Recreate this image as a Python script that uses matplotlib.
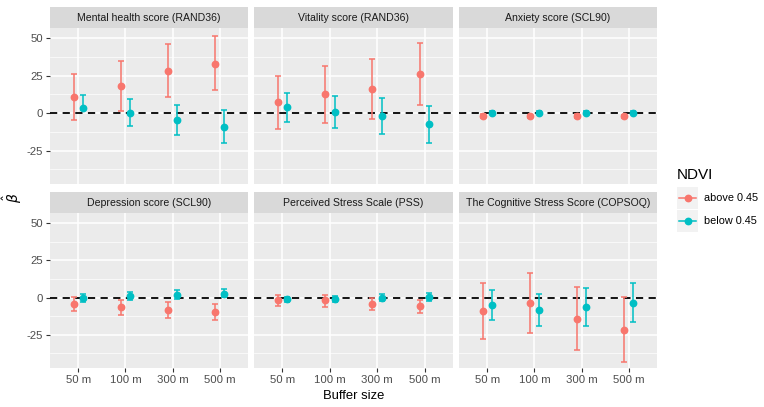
import numpy as np
import matplotlib
matplotlib.use('Agg')
import matplotlib.pyplot as plt
from matplotlib.lines import Line2D
from matplotlib.patches import Rectangle

plt.rcParams['font.family'] = ['Liberation Sans', 'DejaVu Sans']

panels = ["Mental health score (RAND36)", "Vitality score (RAND36)", "Anxiety score (SCL90)",
          "Depression score (SCL90)", "Perceived Stress Scale (PSS)", "The Cognitive Stress Score (COPSOQ)"]
buffers = ["50 m", "100 m", "300 m", "500 m"]
groups = ["above 0.45", "below 0.45"]

# NDVI above 0.45: estimate, lower, upper (one row per panel)
est_above = [[10.9, 18.0, 28.4, 33.1],
             [7.1, 12.7, 16.4, 26.2],
             [-2.0, -2.2, -2.1, -2.2],
             [-4.0, -6.5, -8.3, -9.6],
             [-1.8, -1.8, -4.3, -5.8],
             [-9.0, -3.6, -14.1, -21.5]]
lo_above = [[-4.7, 1.6, 10.9, 15.1],
            [-10.9, -6.4, -4.0, 5.3],
            [-3.2, -3.4, -3.3, -3.4],
            [-8.7, -11.4, -13.7, -15.0],
            [-5.6, -6.0, -8.5, -10.3],
            [-27.8, -23.5, -35.0, -43.5]]
hi_above = [[26.4, 34.7, 46.2, 51.3],
            [24.9, 31.6, 36.4, 47.1],
            [-0.8, -1.0, -0.9, -1.0],
            [0.7, -1.3, -3.1, -4.3],
            [1.8, 2.0, 0.0, -1.6],
            [9.9, 16.4, 7.2, 0.4]]

# NDVI below 0.45
est_below = [[3.6, 0.2, -4.7, -9.1],
             [4.0, 0.9, -2.0, -7.3],
             [0.3, 0.3, 0.3, 0.3],
             [-0.4, 1.1, 1.8, 2.7],
             [-0.9, -0.9, 0.0, 0.7],
             [-5.2, -8.3, -6.5, -3.4]]
lo_below = [[2.0, -8.7, -14.9, -19.8],
            [-5.8, -9.6, -13.8, -20.0],
            [-0.5, -0.5, -0.5, -0.5],
            [-2.7, -1.8, -0.9, 0.2],
            [-2.7, -3.1, -2.5, -2.0],
            [-15.0, -19.3, -19.1, -16.4]]
hi_below = [[12.0, 9.3, 5.6, 2.0],
            [13.6, 11.1, 10.0, 4.9],
            [1.1, 1.1, 1.1, 1.1],
            [2.5, 3.8, 4.9, 6.0],
            [0.7, 0.9, 2.2, 3.4],
            [5.2, 2.5, 6.1, 10.1]]

colors = ["#F8766D", "#00BFC4"]
W, H = 764, 407
fig = plt.figure(figsize=(W / 100, H / 100), dpi=100)

cols = [(50, 248), (254, 453), (459, 657)]
rows = [(7, 28, 184), (192, 213, 368)]
grey = "#4D4D4D"

x = np.arange(1, 5)
for i, title in enumerate(panels):
    r, c = divmod(i, 3)
    x0, x1 = cols[c]
    st, sb, pb = rows[r]
    ax = fig.add_axes([x0 / W, 1 - pb / H, (x1 - x0) / W, (pb - sb) / H])
    sax = fig.add_axes([x0 / W, 1 - sb / H, (x1 - x0) / W, (sb - st) / H])
    sax.set_facecolor("#D9D9D9")
    sax.set_xticks([]); sax.set_yticks([])
    for s in sax.spines.values():
        s.set_visible(False)
    sax.text(0.5, 0.47, title, ha="center", va="center", fontsize=7.6, color="#1A1A1A",
             transform=sax.transAxes)

    ax.set_facecolor("#EBEBEB")
    for s in ax.spines.values():
        s.set_visible(False)
    ax.set_xlim(0.4, 4.6)
    ax.set_ylim(-47.3, 56.8)
    for yv in [-37.5, -12.5, 12.5, 37.5]:
        ax.axhline(yv, color="white", lw=0.5, zorder=0)
    for yv in [-25, 0, 25, 50]:
        ax.axhline(yv, color="white", lw=1.1, zorder=0)
    for xv in x:
        ax.axvline(xv, color="white", lw=1.1, zorder=0)
    ax.axhline(0, color="black", lw=1.3, ls=(0, (4, 3)), zorder=2)

    data = [(est_above, lo_above, hi_above), (est_below, lo_below, hi_below)]
    for g, (e, lo, hi) in enumerate(data):
        xs = x + (-0.1 if g == 0 else 0.1)
        ev = np.array(e[i]); lv = np.array(lo[i]); hv = np.array(hi[i])
        ax.errorbar(xs, ev, yerr=[ev - lv, hv - ev], fmt="o", color=colors[g], ms=4.6,
                    elinewidth=1.1, capsize=2.2, capthick=1.1, zorder=3)

    ax.set_xticks(x)
    ax.set_yticks([-25, 0, 25, 50])
    ax.tick_params(colors="#333333", length=3, width=0.8, labelsize=8.2, labelcolor=grey, pad=2)
    if r == 1:
        ax.set_xticklabels(buffers)
    else:
        ax.tick_params(axis="x", length=0)
        ax.set_xticklabels([])
    if c == 0:
        ax.set_yticklabels(["-25", "0", "25", "50"])
    else:
        ax.tick_params(axis="y", length=0)
        ax.set_yticklabels([])

fig.text(354 / W, 1 - 396 / H, "Buffer size", ha="center", va="center", fontsize=9.4)
fig.text(12 / W, 1 - 198 / H, r"$\hat{\beta}$", ha="center", va="center", fontsize=10, rotation=90)

# legend drawn by hand (ggplot-style grey key boxes)
lax = fig.add_axes([0, 0, 1, 1], facecolor="none")
lax.set_xlim(0, W); lax.set_ylim(H, 0); lax.axis("off")
lax.text(677, 175, "NDVI", ha="left", va="center", fontsize=11)
for g, lab in enumerate(groups):
    yc = 198 + g * 23
    lax.add_patch(Rectangle((677, yc - 11), 21, 22, facecolor="#F2F2F2", edgecolor="none"))
    lax.add_line(Line2D([679, 696], [yc, yc], color=colors[g], lw=1.1))
    lax.plot(687.5, yc, "o", color=colors[g], ms=4.6)
    lax.text(704, yc, lab, ha="left", va="center", fontsize=7.8)

fig.savefig("out.png", dpi=100)
